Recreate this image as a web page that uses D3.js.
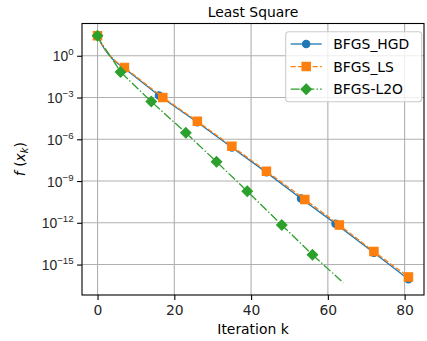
<!DOCTYPE html>
<html>
<head>
<meta charset="utf-8">
<script src="https://cdn.jsdelivr.net/npm/d3@7"></script>
<style>
  html, body { margin: 0; padding: 0; background: #fff; }
  svg { display: block; font-family: "DejaVu Sans", sans-serif; }
</style>
</head>
<body>
<svg id="chart" width="427" height="341"></svg>
<script>
// Objective value f(x_k) per iteration for each optimizer
const hgdIter = [0, 1, 2, 3, 4, 5, 7, 16, 26, 35, 44, 53, 62, 72, 81];
const hgdVal  = [2.7e1, 7.1e0, 2.5e0, 1.1e0, 5.6e-1, 3.2e-1, 1.26e-1, 1.4e-3, 1.66e-5, 2.6e-7, 4.2e-9, 5.6e-11, 8.7e-13, 7.1e-15, 8.7e-17];
const hgdMarks = [0, 7, 16, 26, 35, 44, 53, 62, 72, 81];

const lsIter = [0, 1, 2, 3, 4, 5, 7, 17, 26, 35, 44, 54, 63, 72, 81];
const lsVal  = [2.7e1, 7.9e0, 2.8e0, 1.26e0, 6.3e-1, 3.5e-1, 1.45e-1, 1.02e-3, 1.95e-5, 3.16e-7, 5.1e-9, 4.8e-11, 6.9e-13, 8.5e-15, 1.29e-16];
const lsMarks = [0, 7, 17, 26, 35, 44, 54, 63, 72, 81];

const l2oIter = [0, 1, 2, 3, 4, 5, 6, 14, 23, 31, 39, 48, 56, 64];
const l2oVal  = [2.7e1, 8.0e0, 3.2e0, 1.26e0, 5.0e-1, 1.9e-1, 6.8e-2, 5.1e-4, 2.9e-6, 2.4e-8, 1.86e-10, 6.9e-13, 5.0e-15, 5.0e-17];
const l2oMarks = [0, 6, 14, 23, 31, 39, 48, 56];

const seriesNames = ["BFGS_HGD", "BFGS_LS", "BFGS-L2O"];
const xTicks = [0, 20, 40, 60, 80];
const yTickExps = [0, -3, -6, -9, -12, -15];
const titleText = "Least Square";
const xLabelText = "Iteration k";

const series = [
  { name: seriesNames[0], iter: hgdIter, val: hgdVal, marks: hgdMarks, color: "#1f77b4", dash: null, marker: "circle" },
  { name: seriesNames[1], iter: lsIter, val: lsVal, marks: lsMarks, color: "#ff7f0e", dash: "5.1,2.2", marker: "square" },
  { name: seriesNames[2], iter: l2oIter, val: l2oVal, marks: l2oMarks, color: "#2ca02c", dash: "8.9,2.2,1.4,2.2", marker: "diamond" }
];

const svg = d3.select("#chart");
const plot = { left: 82, right: 424, top: 23.5, bottom: 295 };

// axis limits padded by 5% as in the usual auto-scaling
const allIter = [].concat(...series.map(s => s.iter));
const allVal = [].concat(...series.map(s => s.val));
const [xMin, xMax] = d3.extent(allIter);
const xPad = (xMax - xMin) * 0.05;
const [lMin, lMax] = d3.extent(allVal.map(Math.log10));
const lPad = (lMax - lMin) * 0.05;

const x = d3.scaleLinear().domain([xMin - xPad, xMax + xPad]).range([plot.left, plot.right]);
const y = d3.scaleLog().domain([Math.pow(10, lMin - lPad), Math.pow(10, lMax + lPad)]).range([plot.bottom, plot.top]);

const gridColor = "#b0b0b0";
const grid = svg.append("g");
xTicks.forEach(t => {
  grid.append("line").attr("x1", x(t)).attr("x2", x(t)).attr("y1", plot.top).attr("y2", plot.bottom)
    .attr("stroke", gridColor).attr("stroke-width", 1.1);
});
yTickExps.forEach(e => {
  grid.append("line").attr("x1", plot.left).attr("x2", plot.right).attr("y1", y(Math.pow(10, e))).attr("y2", y(Math.pow(10, e)))
    .attr("stroke", gridColor).attr("stroke-width", 1.1);
});

// x axis
const xAxis = svg.append("g").attr("transform", `translate(0,${plot.bottom})`)
  .call(d3.axisBottom(x).tickValues(xTicks).tickSize(4.9).tickPadding(4.9).tickFormat(d3.format("d")));
xAxis.select(".domain").remove();
xAxis.selectAll(".tick line").attr("stroke", "#000").attr("stroke-width", 1.1);
xAxis.selectAll(".tick text").attr("font-size", "13.9px").attr("font-family", "DejaVu Sans").attr("fill", "#262626");

// y axis with power-of-ten labels
const yAxis = svg.append("g").attr("transform", `translate(${plot.left},0)`)
  .call(d3.axisLeft(y).tickValues(yTickExps.map(e => Math.pow(10, e))).tickSize(4.9).tickFormat(""));
yAxis.select(".domain").remove();
yAxis.selectAll(".tick line").attr("stroke", "#000").attr("stroke-width", 1.1);
yAxis.selectAll(".tick").each(function(d) {
  const e = Math.round(Math.log10(d));
  const t = d3.select(this).append("text")
    .attr("x", -8.4).attr("y", 5).attr("text-anchor", "end")
    .attr("font-size", "13.9px").attr("fill", "#262626");
  t.append("tspan").text("10");
  t.append("tspan").attr("dy", -6).attr("font-size", "9.7px").text(e < 0 ? "\u2212" + (-e) : String(e));
});

// series lines and markers
const line = d3.line().x(d => x(d[0])).y(d => y(d[1]));
function markerPath(type) {
  if (type === "circle") return d3.symbol(d3.symbolCircle, Math.PI * 3.7 * 3.7)();
  if (type === "square") return d3.symbol(d3.symbolSquare, 8.4 * 8.4)();
  return "M0,-5.2L5.2,0L0,5.2L-5.2,0Z";
}
series.forEach(s => {
  const pts = s.iter.map((k, i) => [k, s.val[i]]);
  svg.append("path").datum(pts).attr("d", line)
    .attr("fill", "none").attr("stroke", s.color).attr("stroke-width", 1.3)
    .attr("stroke-dasharray", s.dash);
  const markPts = pts.filter(p => s.marks.includes(p[0]));
  svg.append("g").selectAll("path").data(markPts).join("path")
    .attr("d", markerPath(s.marker))
    .attr("transform", p => `translate(${x(p[0])},${y(p[1])})`)
    .attr("fill", s.color).attr("stroke", s.color).attr("stroke-width", 1.1);
});

// frame
svg.append("rect").attr("x", plot.left).attr("y", plot.top)
  .attr("width", plot.right - plot.left).attr("height", plot.bottom - plot.top)
  .attr("fill", "none").attr("stroke", "#000").attr("stroke-width", 1.1);

// title and axis labels
svg.append("text").attr("x", (plot.left + plot.right) / 2).attr("y", 16.5)
  .attr("text-anchor", "middle").attr("font-size", "13.9px").attr("fill", "#000").text(titleText);
svg.append("text").attr("x", (plot.left + plot.right) / 2).attr("y", 334)
  .attr("text-anchor", "middle").attr("font-size", "13.9px").attr("fill", "#000").text(xLabelText);

const yl = svg.append("text")
  .attr("transform", `translate(24.5,${(plot.top + plot.bottom) / 2}) rotate(-90)`)
  .attr("text-anchor", "middle").attr("font-size", "13.9px").attr("fill", "#000");
yl.append("tspan").attr("font-style", "italic").text("f");
yl.append("tspan").text("\u2004(");
yl.append("tspan").attr("font-style", "italic").text("x");
yl.append("tspan").attr("dy", 3).attr("font-size", "9.7px").attr("font-style", "italic").text("k");
yl.append("tspan").attr("dy", -3).text(")");

// legend
const lg = svg.append("g").attr("transform", "translate(285.7,31.7)");
lg.append("rect").attr("width", 136).attr("height", 70).attr("rx", 3)
  .attr("fill", "#fff").attr("fill-opacity", 0.8).attr("stroke", "#cccccc").attr("stroke-width", 1.1);
series.forEach((s, i) => {
  const ry = 12.3 + i * 22.6;
  const row = lg.append("g").attr("transform", `translate(0,${ry})`);
  row.append("line").attr("x1", 5).attr("x2", 36).attr("y1", 0).attr("y2", 0)
    .attr("stroke", s.color).attr("stroke-width", 1.3).attr("stroke-dasharray", s.dash);
  row.append("path").attr("d", markerPath(s.marker)).attr("transform", "translate(20.5,0)")
    .attr("fill", s.color).attr("stroke", s.color).attr("stroke-width", 1.1);
  row.append("text").attr("x", 47.6).attr("y", 5).attr("font-size", "13.9px").attr("fill", "#000").text(s.name);
});
</script>
</body>
</html>
